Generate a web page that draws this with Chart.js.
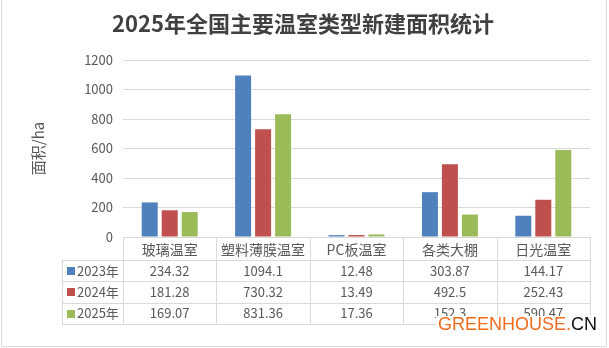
<!DOCTYPE html>
<html>
<head>
<meta charset="utf-8">
<script src="https://cdn.jsdelivr.net/npm/chart.js@4"></script>
<style>
html, body { margin: 0; padding: 0; background: #fff; }
</style>
</head>
<body>
<canvas id="greenhouseChart" width="609" height="348"></canvas>
<script>
const chartTitle = '2025年全国主要温室类型新建面积统计'
const categories = ['玻璃温室', '塑料薄膜温室', 'PC板温室', '各类大棚', '日光温室']
const seriesNames = ['2023年', '2024年', '2025年']
const area2023 = [234.32, 1094.1, 12.48, 303.87, 144.17]
const area2024 = [181.28, 730.32, 13.49, 492.5, 252.43]
const area2025 = [169.07, 831.36, 17.36, 152.3, 590.47]
const seriesColors = ['#4F81BD', '#C0504D', '#9BBB59']

const cjk = '"Noto Sans CJK SC", "Noto Sans", sans-serif'
const lineColor = '#d9d9d9'
const textColor = '#595959'

// white page, thin frame and the title
const frame = {
    id: 'frame',
    beforeDraw(chart) {
        const ctx = chart.ctx
        ctx.save()
        ctx.fillStyle = '#fff'
        ctx.fillRect(0, 0, chart.width, chart.height)
        ctx.strokeStyle = lineColor
        ctx.lineWidth = 1
        ctx.beginPath()
        ctx.moveTo(1.5, 0)
        ctx.lineTo(1.5, 346.5)
        ctx.lineTo(606.5, 346.5)
        ctx.lineTo(606.5, 0)
        ctx.stroke()

        ctx.fillStyle = '#404040'
        ctx.font = 'bold 22px ' + cjk
        ctx.textAlign = 'center'
        ctx.textBaseline = 'middle'
        ctx.fillText(chartTitle, 303, 24)
        ctx.restore()
    }
}

// data table under the bars
const dataTable = {
    id: 'dataTable',
    afterDraw(chart) {
        const ctx = chart.ctx
        const area = chart.chartArea
        const xScale = chart.scales.x
        const half = (xScale.getPixelForValue(1) - xScale.getPixelForValue(0)) / 2
        const top = area.bottom
        const headerH = 23
        const rowH = 21.4
        const legendLeft = area.left - 61
        const bottom = top + headerH + rowH * 3
        const px = v => Math.round(v) + 0.5

        ctx.save()
        ctx.strokeStyle = lineColor
        ctx.lineWidth = 1
        ctx.beginPath()
        for (let i = 0; i <= categories.length; i++) {
            const x = i < categories.length ? xScale.getPixelForValue(i) - half : xScale.getPixelForValue(i - 1) + half
            ctx.moveTo(px(x), top)
            ctx.lineTo(px(x), bottom)
        }
        ctx.moveTo(px(legendLeft), top + headerH)
        ctx.lineTo(px(legendLeft), bottom)
        for (let r = 0; r <= 3; r++) {
            const y = px(top + headerH + rowH * r)
            ctx.moveTo(legendLeft, y)
            ctx.lineTo(area.right, y)
        }
        ctx.stroke()

        ctx.textBaseline = 'middle'
        chart.data.datasets.forEach((ds, r) => {
            const y = top + headerH + rowH * r + rowH / 2
            ctx.fillStyle = ds.backgroundColor
            ctx.fillRect(legendLeft + 5, Math.round(y) - 4, 8, 8)
            ctx.fillStyle = textColor
            ctx.font = '13px ' + cjk
            ctx.textAlign = 'left'
            ctx.fillText(ds.label, legendLeft + 15, y)
            ctx.textAlign = 'center'
            ds.data.forEach((v, i) => {
                ctx.fillText(String(v), xScale.getPixelForValue(i), y)
            })
        })
        ctx.restore()
    }
}

// site mark in the lower right corner
const watermark = {
    id: 'watermark',
    afterDraw(chart) {
        const ctx = chart.ctx
        ctx.save()
        ctx.fillStyle = '#fff'
        ctx.fillRect(436, 316, 162, 17)
        ctx.font = '18px "Liberation Sans", Arial, sans-serif'
        ctx.textBaseline = 'alphabetic'
        ctx.textAlign = 'left'
        const part1 = 'GREENHOUSE.'
        ctx.fillStyle = '#F26B1D'
        ctx.fillText(part1, 438, 330)
        const w = ctx.measureText(part1).width
        ctx.fillStyle = '#111'
        ctx.fillText('CN', 438 + w, 330)
        ctx.restore()
    }
}

const data = {
    labels: categories,
    datasets: [
        { label: seriesNames[0], data: area2023, backgroundColor: seriesColors[0] },
        { label: seriesNames[1], data: area2024, backgroundColor: seriesColors[1] },
        { label: seriesNames[2], data: area2025, backgroundColor: seriesColors[2] }
    ]
}

const config = {
    type: 'bar',
    data: data,
    options: {
        responsive: false,
        animation: false,
        datasets: {
            bar: { categoryPercentage: 0.642, barPercentage: 0.8 }
        },
        layout: { padding: { left: 0, right: 19, top: 60, bottom: 0 } },
        plugins: {
            legend: { display: false },
            tooltip: { enabled: false },
            title: { display: false }
        },
        scales: {
            x: {
                afterFit: s => { s.height = 111 },
                grid: { display: false, drawTicks: false },
                border: { display: true, color: lineColor },
                ticks: { color: textColor, padding: 4, font: { family: cjk, size: 14 } }
            },
            y: {
                min: 0,
                max: 1200,
                afterFit: s => { s.width = 123 },
                grid: { color: lineColor, drawTicks: false },
                border: { display: false },
                ticks: {
                    stepSize: 200,
                    padding: 10,
                    color: textColor,
                    font: { family: cjk, size: 13 },
                    callback: v => String(v)
                },
                title: {
                    display: true,
                    text: '面积/ha',
                    color: textColor,
                    font: { family: cjk, size: 15 },
                    padding: { top: 29, bottom: 0 }
                }
            }
        }
    },
    plugins: [frame, dataTable, watermark]
}

const myChart = new Chart(
    document.getElementById('greenhouseChart'),
    config
)
</script>
</body>
</html>
